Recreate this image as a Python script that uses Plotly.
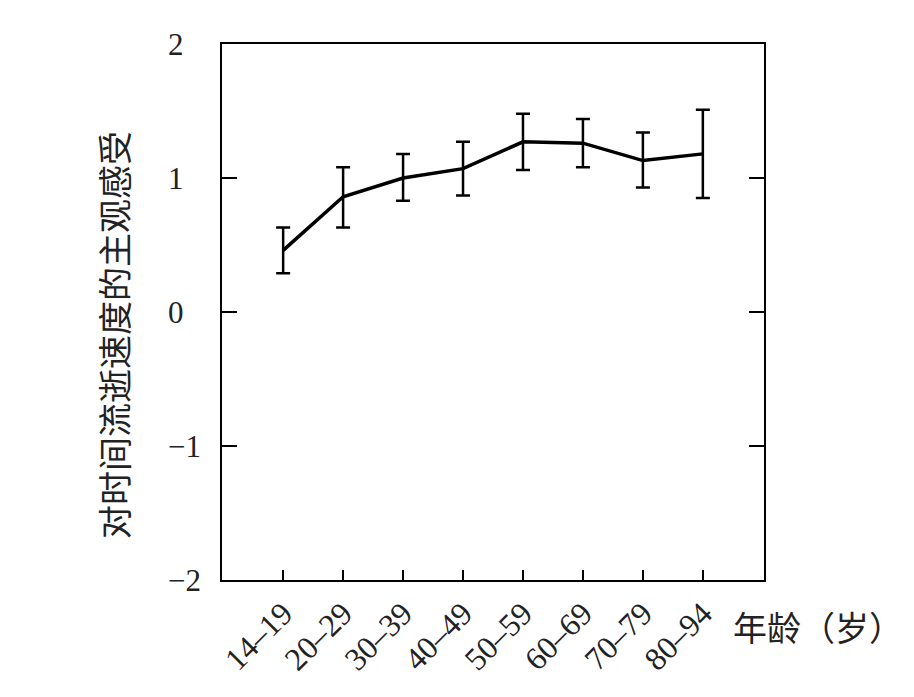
import plotly.graph_objects as go

categories = ["14–19", "20–29", "30–39", "40–49", "50–59", "60–69", "70–79", "80–94"]
means = [0.46, 0.86, 1.00, 1.07, 1.27, 1.26, 1.13, 1.18]
upper = [0.63, 1.08, 1.18, 1.27, 1.48, 1.44, 1.34, 1.51]
lower = [0.29, 0.63, 0.83, 0.87, 1.06, 1.08, 0.93, 0.85]
y_ticks = [-2, -1, 0, 1, 2]
y_tick_labels = ["−2", "−1", "0", "1", "2"]

err_plus = [u - m for u, m in zip(upper, means)]
err_minus = [m - l for m, l in zip(means, lower)]
xs = list(range(len(categories)))

fig = go.Figure()
fig.add_trace(go.Scatter(
    x=xs, y=means, mode="lines",
    line=dict(color="black", width=3.5),
    error_y=dict(type="data", symmetric=False, array=err_plus, arrayminus=err_minus,
                 color="black", thickness=2.5, width=7),
    showlegend=False,
))

serif = "Liberation Serif"
cjk = "Noto Sans CJK SC"

L, R, T, B = 222, 150, 44, 117
W, H = 914, 697
pw = W - L - R
ph = H - T - B

def px2paper_x(px):
    return (px - L) / pw

def px2paper_y(py):
    return (H - B - py) / ph

annotations = []
for v, t in zip(y_ticks, y_tick_labels):
    annotations.append(dict(
        text=t, x=px2paper_x(166), y=v, xref="paper", yref="y",
        xanchor="left", yanchor="middle", showarrow=False,
        font=dict(family=serif, size=31, color="#222"),
    ))
annotations.append(dict(
    text="年龄（岁）", x=px2paper_x(818), y=px2paper_y(626), xref="paper", yref="paper",
    xanchor="center", yanchor="middle", showarrow=False,
    font=dict(family=cjk, size=34, color="#222"),
))
annotations.append(dict(
    text="对时间流逝速度的主观感受", textangle=-90,
    x=px2paper_x(113), y=px2paper_y(335), xref="paper", yref="paper",
    xanchor="center", yanchor="middle", showarrow=False,
    font=dict(family=cjk, size=34, color="#222"),
))

fig.update_layout(
    width=W, height=H,
    margin=dict(l=L, r=R, t=T, b=B),
    paper_bgcolor="white", plot_bgcolor="white",
    xaxis=dict(
        range=[-1.02, 8.02], tickmode="array", tickvals=xs, ticktext=categories,
        tickangle=-45, ticks="inside", ticklen=10, tickwidth=2, tickcolor="black",
        showline=True, linecolor="black", linewidth=2, mirror=True,
        showgrid=False, zeroline=False,
        tickfont=dict(family=serif, size=32, color="#222"),
    ),
    yaxis=dict(
        range=[-2, 2], tickmode="array", tickvals=y_ticks,
        ticks="inside", ticklen=15, tickwidth=2, tickcolor="black",
        showline=True, linecolor="black", linewidth=2, mirror="allticks",
        showgrid=False, zeroline=False, showticklabels=False,
    ),
    annotations=annotations,
)

fig.write_html("out.html")
